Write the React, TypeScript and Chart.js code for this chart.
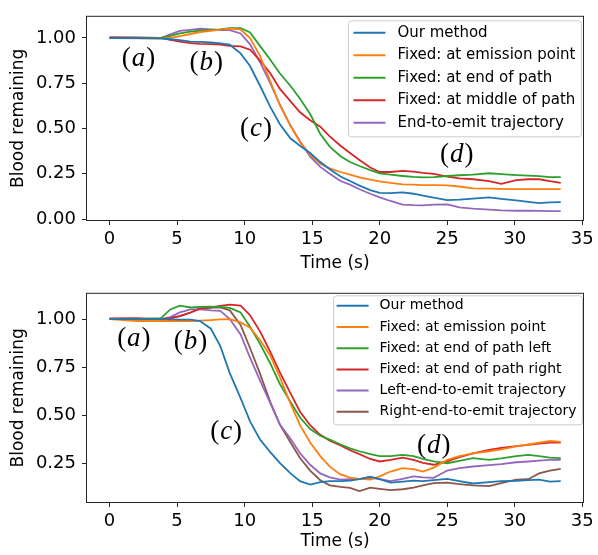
import React, { useEffect, useRef } from "react";
import { Chart, registerables } from "chart.js";

Chart.register(...registerables);

const FONT = '"DejaVu Sans", sans-serif';
const SERIF = '"Liberation Serif", "DejaVu Serif", serif';

// ---------- data ----------
const times = [0, 2, 3.8, 4.5, 5.2, 6, 6.7, 7.5, 8.2, 8.9, 9.7, 10.4, 11.15, 11.9, 12.6, 13.4, 14.1, 14.85, 15.6, 16.3, 17.1, 17.8, 18.5, 19.3, 20, 20.8, 21.7, 22.5, 23.2, 24, 25, 25.9, 26.9, 28.1, 29, 30.1, 31, 31.8, 32.6, 33.4];

const xTicks = [0, 5, 10, 15, 20, 25, 30, 35];
const topYTicks = [0, 0.25, 0.5, 0.75, 1.0];
const bottomYTicks = [0.25, 0.5, 0.75, 1.0];

const topLabels = ["Our method", "Fixed: at emission point", "Fixed: at end of path", "Fixed: at middle of path", "End-to-emit trajectory"];
const bottomLabels = ["Our method", "Fixed: at emission point", "Fixed: at end of path left", "Fixed: at end of path right", "Left-end-to-emit trajectory", "Right-end-to-emit trajectory"];
const colors = ["#1f77b4", "#ff7f0e", "#2ca02c", "#d62728", "#9467bd", "#8c564b"];

// top panel
const topOurMethod = [1.0, 1.0, 0.998, 0.993, 0.988, 0.98, 0.978, 0.975, 0.97, 0.963, 0.915, 0.845, 0.735, 0.62, 0.525, 0.445, 0.405, 0.365, 0.315, 0.275, 0.235, 0.21, 0.185, 0.16, 0.145, 0.143, 0.147, 0.14, 0.13, 0.118, 0.105, 0.108, 0.113, 0.12, 0.112, 0.103, 0.095, 0.088, 0.092, 0.094];
const topEmission = [1.0, 0.998, 0.997, 1.0, 1.01, 1.022, 1.033, 1.04, 1.046, 1.052, 1.047, 1.0, 0.9, 0.76, 0.63, 0.515, 0.425, 0.355, 0.305, 0.28, 0.26, 0.245, 0.23, 0.218, 0.208, 0.2, 0.192, 0.19, 0.188, 0.188, 0.186, 0.18, 0.17, 0.168, 0.167, 0.165, 0.166, 0.165, 0.165, 0.165];
const topEndOfPath = [1.0, 1.0, 1.0, 1.012, 1.025, 1.035, 1.04, 1.045, 1.048, 1.055, 1.055, 1.03, 0.955, 0.88, 0.805, 0.735, 0.665, 0.58, 0.47, 0.4, 0.347, 0.315, 0.293, 0.27, 0.253, 0.245, 0.238, 0.233, 0.23, 0.232, 0.238, 0.242, 0.245, 0.253, 0.248, 0.243, 0.24, 0.237, 0.232, 0.232];
const topMiddle = [1.005, 1.003, 1.0, 0.99, 0.98, 0.972, 0.968, 0.966, 0.963, 0.957, 0.954, 0.935, 0.875, 0.805, 0.72, 0.65, 0.59, 0.546, 0.51, 0.457, 0.405, 0.365, 0.326, 0.285, 0.26, 0.26, 0.266, 0.262, 0.255, 0.25, 0.235, 0.225, 0.22, 0.21, 0.195, 0.215, 0.22, 0.22, 0.21, 0.2];
const topEndToEmit = [1.0, 1.0, 1.0, 1.02, 1.039, 1.045, 1.051, 1.047, 1.043, 1.043, 1.025, 0.965, 0.865, 0.75, 0.635, 0.515, 0.43, 0.345, 0.288, 0.25, 0.21, 0.19, 0.165, 0.14, 0.12, 0.1, 0.08, 0.077, 0.076, 0.08, 0.081, 0.065, 0.058, 0.052, 0.048, 0.046, 0.046, 0.045, 0.044, 0.044];

// bottom panel
const botOurMethod = [1.0, 1.0, 1.0, 0.998, 0.997, 0.997, 0.99, 0.95, 0.86, 0.72, 0.59, 0.47, 0.375, 0.31, 0.255, 0.2, 0.16, 0.142, 0.155, 0.16, 0.16, 0.163, 0.17, 0.183, 0.17, 0.152, 0.158, 0.163, 0.16, 0.165, 0.172, 0.16, 0.148, 0.155, 0.16, 0.162, 0.165, 0.168, 0.158, 0.16];
const botEmission = [1.0, 0.99, 0.99, 0.99, 0.99, 0.99, 0.992, 0.995, 0.998, 1.0, 0.983, 0.955, 0.89, 0.81, 0.7, 0.56, 0.45, 0.36, 0.29, 0.235, 0.195, 0.178, 0.172, 0.168, 0.185, 0.21, 0.228, 0.222, 0.21, 0.23, 0.27, 0.29, 0.304, 0.315, 0.325, 0.34, 0.35, 0.36, 0.368, 0.364];
const botEndLeft = [1.0, 1.0, 1.005, 1.05, 1.07, 1.06, 1.063, 1.065, 1.063, 1.058, 1.034, 0.96, 0.87, 0.77, 0.665, 0.57, 0.49, 0.43, 0.395, 0.375, 0.35, 0.33, 0.315, 0.3, 0.29, 0.29, 0.296, 0.29, 0.275, 0.262, 0.253, 0.265, 0.279, 0.27, 0.278, 0.29, 0.296, 0.29, 0.282, 0.279];
const botEndRight = [1.003, 1.005, 1.0, 1.005, 1.015, 1.034, 1.054, 1.06, 1.068, 1.075, 1.07, 1.02, 0.935, 0.83, 0.725, 0.615, 0.52, 0.45, 0.4, 0.37, 0.345, 0.32, 0.3, 0.275, 0.262, 0.27, 0.282, 0.27, 0.255, 0.245, 0.262, 0.285, 0.304, 0.322, 0.333, 0.342, 0.348, 0.355, 0.36, 0.36];
const botLeftTraj = [1.0, 1.0, 1.0, 1.01, 1.035, 1.05, 1.05, 1.045, 1.043, 1.0, 0.92, 0.8, 0.68, 0.565, 0.455, 0.38, 0.305, 0.245, 0.2, 0.18, 0.168, 0.17, 0.172, 0.177, 0.17, 0.16, 0.172, 0.185, 0.18, 0.177, 0.215, 0.228, 0.236, 0.243, 0.248, 0.258, 0.262, 0.266, 0.27, 0.27];
const botRightTraj = [1.0, 1.0, 1.0, 1.005, 1.015, 1.034, 1.055, 1.06, 1.06, 1.045, 0.97, 0.85, 0.715, 0.57, 0.455, 0.36, 0.28, 0.215, 0.165, 0.138, 0.13, 0.125, 0.109, 0.126, 0.12, 0.114, 0.118, 0.126, 0.138, 0.15, 0.152, 0.145, 0.138, 0.134, 0.15, 0.168, 0.17, 0.2, 0.215, 0.224];

// annotation labels (letter, time, value)
const topAnnotLetters = ["a", "b", "c", "d"];
const topAnnotT = [2.14, 7.16, 10.84, 25.7];
const topAnnotV = [0.885, 0.863, 0.498, 0.356];
const botAnnotLetters = ["a", "b", "c", "d"];
const botAnnotT = [1.8, 6.0, 8.63, 24.0];
const botAnnotV = [0.898, 0.88, 0.414, 0.343];

// ---------- plugin ----------
const overlayPlugin = {
  id: "overlay",
  afterDraw(chart: any, _args: any, opts: any) {
    const ctx = chart.ctx as CanvasRenderingContext2D;
    const a = chart.chartArea;
    ctx.save();
    // spines
    ctx.strokeStyle = "#262626";
    ctx.lineWidth = 1;
    ctx.strokeRect(a.left - 0.5, a.top - 0.5, a.right - a.left + 1, a.bottom - a.top + 1);

    // annotations
    const xs = chart.scales.x;
    const ys = chart.scales.y;
    const size = opts.annotSize;
    const up = `${size}px ${SERIF}`;
    const it = `italic ${size}px ${SERIF}`;
    ctx.fillStyle = "#000";
    ctx.textBaseline = "middle";
    ctx.textAlign = "left";
    (opts.letters as string[]).forEach((letter, i) => {
      const cx = xs.getPixelForValue(opts.ts[i]);
      const cy = ys.getPixelForValue(opts.vs[i]);
      ctx.font = up;
      const wp = ctx.measureText("(").width;
      const wq = ctx.measureText(")").width;
      ctx.font = it;
      const wl = ctx.measureText(letter).width;
      const total = wp + wl + wq + 2;
      let x = cx - total / 2;
      ctx.font = up;
      ctx.fillText("(", x, cy);
      x += wp + 1;
      ctx.font = it;
      ctx.fillText(letter, x, cy);
      x += wl + 1;
      ctx.font = up;
      ctx.fillText(")", x, cy);
    });

    // legend
    const L = opts.legend;
    ctx.font = `${L.fontSize}px ${FONT}`;
    const ds = chart.data.datasets;
    const tw = Math.max(...ds.map((d: any) => ctx.measureText(d.label).width));
    const boxW = L.leftPad + L.lineLen + L.gap + tw + L.rightPad;
    const boxH = L.firstRow + (ds.length - 1) * L.rowH + L.lastPad;
    const bx = a.right - L.offRight - boxW;
    const by = a.top + L.offTop;
    const r = 3;
    ctx.beginPath();
    ctx.moveTo(bx + r, by);
    ctx.lineTo(bx + boxW - r, by);
    ctx.arcTo(bx + boxW, by, bx + boxW, by + r, r);
    ctx.lineTo(bx + boxW, by + boxH - r);
    ctx.arcTo(bx + boxW, by + boxH, bx + boxW - r, by + boxH, r);
    ctx.lineTo(bx + r, by + boxH);
    ctx.arcTo(bx, by + boxH, bx, by + boxH - r, r);
    ctx.lineTo(bx, by + r);
    ctx.arcTo(bx, by, bx + r, by, r);
    ctx.closePath();
    ctx.fillStyle = "rgba(255,255,255,0.8)";
    ctx.fill();
    ctx.strokeStyle = "#cccccc";
    ctx.lineWidth = 1;
    ctx.stroke();
    ds.forEach((d: any, i: number) => {
      const y = by + L.firstRow + i * L.rowH;
      ctx.strokeStyle = d.borderColor;
      ctx.lineWidth = 2;
      ctx.beginPath();
      ctx.moveTo(bx + L.leftPad, y);
      ctx.lineTo(bx + L.leftPad + L.lineLen, y);
      ctx.stroke();
      ctx.fillStyle = "#000";
      ctx.textBaseline = "middle";
      ctx.fillText(d.label, bx + L.leftPad + L.lineLen + L.gap, y);
    });
    ctx.restore();
  },
};

function makeDatasets(labels: string[], series: number[][]) {
  return labels.map((label, i) => ({
    label,
    data: times.map((t, j) => ({ x: t, y: series[i][j] })),
    borderColor: colors[i],
    backgroundColor: colors[i],
    borderWidth: 1.8,
    pointRadius: 0,
    tension: 0,
    fill: false,
  }));
}

function makeConfig(p: any): any {
  return {
    type: "line",
    data: { datasets: makeDatasets(p.labels, p.series) },
    plugins: [overlayPlugin],
    options: {
      responsive: false,
      animation: false,
      devicePixelRatio: 1,
      layout: { padding: { left: 0, right: 15, top: p.padTop, bottom: 0 } },
      plugins: {
        legend: { display: false },
        tooltip: { enabled: false },
        overlay: {
          annotSize: 27,
          letters: p.letters,
          ts: p.annotT,
          vs: p.annotV,
          legend: p.legend,
        },
      },
      scales: {
        x: {
          type: "linear",
          min: -1.67,
          max: 35.05,
          afterFit: (s: any) => {
            s.height = p.xHeight;
          },
          afterBuildTicks: (s: any) => {
            s.ticks = xTicks.map((v) => ({ value: v }));
          },
          grid: { display: true, drawOnChartArea: false, drawTicks: true, tickLength: 5, color: "#262626" },
          border: { display: false },
          ticks: {
            font: { family: FONT, size: 18 },
            color: "#000",
            padding: 4,
            maxRotation: 0,
            autoSkip: false,
            callback: (v: any) => String(v),
          },
          title: {
            display: true,
            text: "Time (s)",
            font: { family: FONT, size: 17 },
            color: "#000",
            padding: { top: 0, bottom: p.xTitlePad },
          },
        },
        y: {
          type: "linear",
          min: p.yMin,
          max: p.yMax,
          afterFit: (s: any) => {
            s.width = 87;
          },
          afterBuildTicks: (s: any) => {
            s.ticks = p.yTicks.map((v: number) => ({ value: v }));
          },
          grid: { display: true, drawOnChartArea: false, drawTicks: true, tickLength: 5, color: "#262626" },
          border: { display: false },
          ticks: {
            font: { family: FONT, size: 18 },
            color: "#000",
            padding: 6,
            autoSkip: false,
            callback: (v: any) => Number(v).toFixed(2),
          },
          title: {
            display: true,
            text: "Blood remaining",
            font: { family: FONT, size: 17 },
            color: "#000",
            padding: { top: 8, bottom: 0 },
          },
        },
      },
    },
  };
}

function Panel({ cfg, height, top }: { cfg: any; height: number; top: number }) {
  const ref = useRef<HTMLCanvasElement>(null);
  useEffect(() => {
    const chart = new Chart(ref.current as HTMLCanvasElement, cfg);
    return () => chart.destroy();
  }, []);
  return (
    <canvas
      ref={ref}
      width={598}
      height={height}
      style={{ position: "absolute", left: 0, top, width: 598, height, display: "block" }}
    />
  );
}

export default function App() {
  const topCfg = makeConfig({
    labels: topLabels,
    series: [topOurMethod, topEmission, topEndOfPath, topMiddle, topEndToEmit],
    padTop: 9,
    xHeight: 57,
    xTitlePad: 3,
    yMin: -0.005,
    yMax: 1.117,
    yTicks: topYTicks,
    letters: topAnnotLetters,
    annotT: topAnnotT,
    annotV: topAnnotV,
    legend: { fontSize: 15, rowH: 22.5, firstRow: 12, lastPad: 14, leftPad: 5, lineLen: 32, gap: 12, rightPad: 6, offRight: 1.5, offTop: 4 },
  });
  const botCfg = makeConfig({
    labels: bottomLabels,
    series: [botOurMethod, botEmission, botEndLeft, botEndRight, botLeftTraj, botRightTraj],
    padTop: 14,
    xHeight: 53,
    xTitlePad: 3,
    yMin: 0.052,
    yMax: 1.131,
    yTicks: bottomYTicks,
    letters: botAnnotLetters,
    annotT: botAnnotT,
    annotV: botAnnotV,
    legend: { fontSize: 14, rowH: 21.2, firstRow: 10, lastPad: 13, leftPad: 3, lineLen: 32, gap: 11, rightPad: 6, offRight: 0.5, offTop: 2 },
  });
  return (
    <div style={{ position: "absolute", left: 0, top: 0, width: 598, height: 555, background: "#fff" }}>
      <Panel cfg={topCfg} height={277} top={0} />
      <Panel cfg={botCfg} height={278} top={277} />
    </div>
  );
}
